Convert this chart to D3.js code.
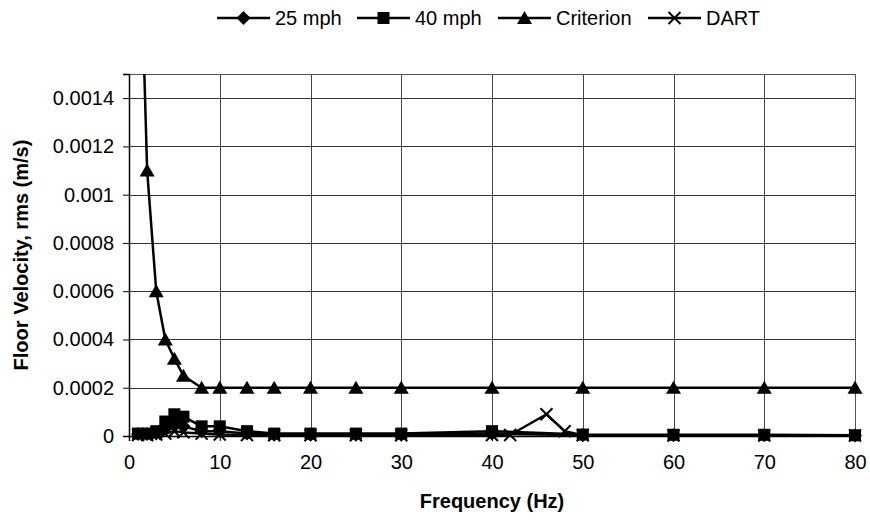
<!DOCTYPE html>
<html><head><meta charset="utf-8">
<script src="https://cdn.jsdelivr.net/npm/d3@7"></script>
<style>
body{margin:0;background:#fff;}
text{font-family:"Liberation Sans",Arial,sans-serif;fill:#000;}
</style></head>
<body><svg id="c" width="870" height="529"></svg>
<script>
const freq = [1,2,3,4,5,6,8,10,13,16,20,25,30,40,50,60,70,80];
const mph25 = [0.000008,0.000008,0.00001,0.00003,0.00005,0.00004,0.00002,0.00002,0.00001,0.000005,0.000005,0.000005,0.000005,0.00001,0.000003,0.000003,0.000003,0.000002];
const mph40 = [0.00001,0.00001,0.00002,0.00006,0.00009,0.00008,0.00004,0.00004,0.00002,0.00001,0.00001,0.00001,0.00001,0.00002,0.000006,0.000005,0.000005,0.000003];
const criterion = [0.0024,0.0011,0.0006,0.0004,0.00032,0.00025,0.0002,0.0002,0.0002,0.0002,0.0002,0.0002,0.0002,0.0002,0.0002,0.0002,0.0002,0.0002];
const dartFreq = [1,2,3,4,5,6,8,10,13,16,20,25,30,40,42,46,48,50,60,70,80];
const dart = [0.000004,0.000004,0.000006,0.00001,0.00002,0.000015,0.00001,0.000006,0.000004,0.000003,0.000003,0.000003,0.000003,0.000004,0.000004,0.00009,0.00002,0.000003,0.000002,0.000002,0.000002];
const xTicks = [0,10,20,30,40,50,60,70,80];
const yTicks = [0,0.0002,0.0004,0.0006,0.0008,0.001,0.0012,0.0014];
const seriesNames = ["25 mph","40 mph","Criterion","DART"];

const L=129,R=855,T=74,B=436;
const svg=d3.select("#c");
const x=d3.scaleLinear().domain([0,80]).range([L,R]);
const y=d3.scaleLinear().domain([0,0.0015]).range([B,T]);

// gridlines
const g=svg.append("g");
g.selectAll("line.h").data(yTicks.filter(d=>d>0)).enter().append("line")
 .attr("x1",L).attr("x2",R).attr("y1",d=>Math.round(y(d))+0.5).attr("y2",d=>Math.round(y(d))+0.5)
 .attr("stroke","#333").attr("stroke-width",1);
g.selectAll("line.v").data(xTicks.filter(d=>d>0)).enter().append("line")
 .attr("y1",T).attr("y2",B).attr("x1",d=>Math.round(x(d))+0.5).attr("x2",d=>Math.round(x(d))+0.5)
 .attr("stroke","#444").attr("stroke-width",1);
// border top/right
svg.append("line").attr("x1",L).attr("x2",R).attr("y1",T+0.5).attr("y2",T+0.5).attr("stroke","#555");
svg.append("line").attr("x1",R+0.5).attr("x2",R+0.5).attr("y1",T).attr("y2",B).attr("stroke","#555");

// axes
const yAxis=d3.axisLeft(y).tickValues(yTicks).tickSize(6).tickPadding(9).tickFormat(d=>d===0?"0":String(+d.toFixed(4)));
const ya=svg.append("g").attr("transform",`translate(${L},0)`).call(yAxis);
const xAxis=d3.axisBottom(x).tickValues(xTicks).tickSize(5).tickPadding(16).tickFormat(d3.format("d"));
const xa=svg.append("g").attr("transform",`translate(0,${B})`).call(xAxis);
[ya,xa].forEach(a=>{a.select(".domain").attr("stroke","#000").attr("stroke-width",1.5);
 a.selectAll(".tick line").attr("stroke","#000");
 a.selectAll("text").attr("font-size",20).attr("font-family","Liberation Sans, Arial, sans-serif").attr("fill","#000");});
xa.selectAll("text").attr("dy","0.6em");

svg.append("text").attr("x",(L+R)/2).attr("y",508).attr("text-anchor","middle")
 .attr("font-size",20).attr("font-weight","bold").text("Frequency (Hz)");
svg.append("text").attr("transform",`translate(28,${(T+B)/2}) rotate(-90)`).attr("text-anchor","middle")
 .attr("font-size",20).attr("font-weight","bold").text("Floor Velocity, rms (m/s)");

// clip
svg.append("defs").append("clipPath").attr("id","cp").append("rect")
 .attr("x",L-10).attr("y",T).attr("width",R-L+20).attr("height",B-T+10);
const plot=svg.append("g").attr("clip-path","url(#cp)");

const line=d3.line().x(d=>x(d[0])).y(d=>y(d[1]));
function marker(sel,type){
  if(type==="diamond") sel.append("path").attr("d","M0,-7L7,0L0,7L-7,0Z").attr("fill","#000");
  else if(type==="square") sel.append("rect").attr("x",-6).attr("y",-6).attr("width",12).attr("height",12).attr("fill","#000");
  else if(type==="triangle") sel.append("path").attr("d","M0,-7L7.5,6L-7.5,6Z").attr("fill","#000");
  else if(type==="x") sel.append("path").attr("d","M-6,-6L6,6M6,-6L-6,6").attr("stroke","#000").attr("stroke-width",2).attr("fill","none");
}
const series=[
 {name:seriesNames[0],xs:freq,ys:mph25,m:"diamond"},
 {name:seriesNames[1],xs:freq,ys:mph40,m:"square"},
 {name:seriesNames[2],xs:freq,ys:criterion,m:"triangle"},
 {name:seriesNames[3],xs:dartFreq,ys:dart,m:"x"}];
series.forEach(s=>{
  const pts=s.xs.map((f,i)=>[f,s.ys[i]]);
  plot.append("path").attr("d",line(pts)).attr("fill","none").attr("stroke","#000").attr("stroke-width",2.5).attr("stroke-linejoin","round");
  pts.forEach(p=>{const gg=plot.append("g").attr("transform",`translate(${x(p[0])},${y(p[1])})`);marker(gg,s.m);});
});

// legend
const legX=[217,357,498,648];
series.forEach((s,i)=>{
  const lg=svg.append("g").attr("transform",`translate(${legX[i]},0)`);
  lg.append("line").attr("x1",0).attr("x2",53).attr("y1",18).attr("y2",18).attr("stroke","#000").attr("stroke-width",2.5);
  marker(lg.append("g").attr("transform","translate(26.5,18)"),s.m);
  lg.append("text").attr("x",58).attr("y",25).attr("font-size",20).text(s.name);
});
</script></body></html>
